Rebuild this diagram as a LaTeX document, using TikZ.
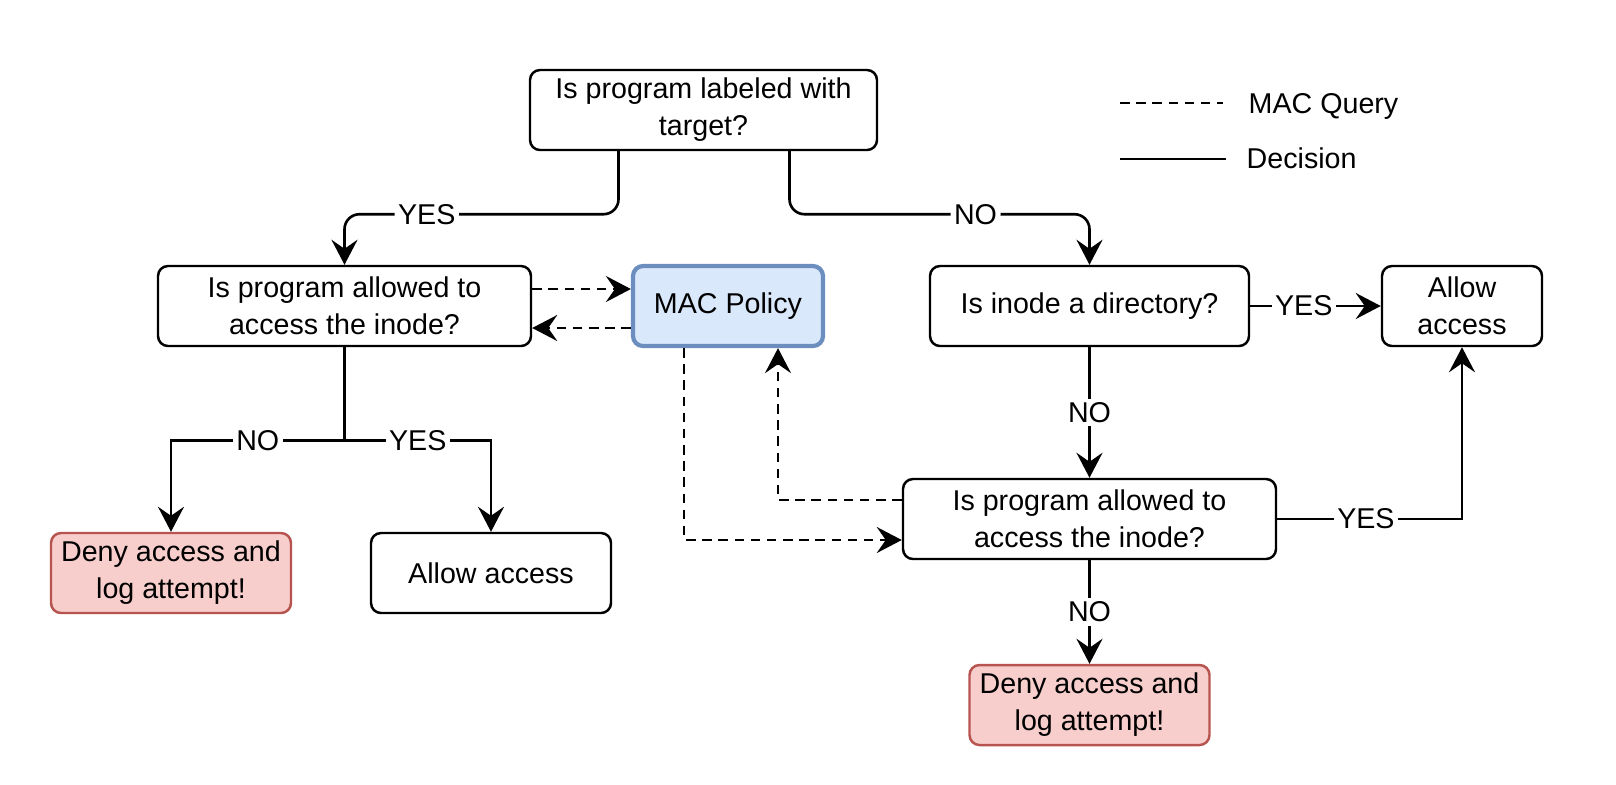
\documentclass[tikz,border=0pt]{standalone}
\usepackage{fontspec}
\setmainfont{Liberation Sans}
\usepackage{xcolor}
\usetikzlibrary{arrows.meta,positioning,calc}

\definecolor{macfill}{HTML}{DAE8FC}
\definecolor{macline}{HTML}{6C8EBF}
\definecolor{denyfill}{HTML}{F8CECC}
\definecolor{denyline}{HTML}{B85450}

\begin{document}
\begin{tikzpicture}[
  font=\fontsize{8.15}{10.5}\selectfont,
  q/.style={draw,rounded corners=1mm,line width=0.7pt,align=center,minimum height=8mm,inner sep=0pt},
  pol/.style={q,draw=macline,fill=macfill,line width=1.2pt},
  deny/.style={q,draw=denyline,fill=denyfill},
  arr/.style={line width=0.75pt,-{Stealth[length=2.5mm,width=2.6mm,inset=0.9mm]}},
  qarr/.style={arr,dash pattern=on 2.7pt off 1.9pt},
  lbl/.style={fill=white,inner sep=1pt}
]
\useasboundingbox (0,0) rectangle (16.16,-7.84);

% decision boxes
\node[q,minimum width=3.47cm] (top) at (7.035,-1.10) {Is program labeled with\\target?};
\node[q,minimum width=3.73cm] (q1) at (3.445,-3.06) {Is program allowed to\\access the inode?};
\node[pol,minimum width=1.90cm] (mac) at (7.28,-3.06) {MAC Policy};
\node[q,minimum width=3.19cm] (dir) at (10.895,-3.06) {Is inode a directory?};
\node[q,minimum width=1.60cm] (okr) at (14.62,-3.06) {Allow\\access};
\node[deny,minimum width=2.40cm] (denyl) at (1.71,-5.73) {Deny access and\\log attempt!};
\node[q,minimum width=2.40cm] (okl) at (4.91,-5.73) {Allow access};
\node[q,minimum width=3.73cm] (q2) at (10.895,-5.19) {Is program allowed to\\access the inode?};
\node[deny,minimum width=2.40cm] (denyr) at (10.895,-7.05) {Deny access and\\log attempt!};

% decisions
\draw[arr,rounded corners=1.5mm] ([xshift=-8.5mm]top.south) -- ++(0,-0.63) -| node[lbl,pos=0.35]{YES} (q1.north);
\draw[arr,rounded corners=1.5mm] ([xshift=8.6mm]top.south) -- ++(0,-0.63) -| node[lbl,pos=0.31]{NO} (dir.north);
\draw[line width=0.75pt] (q1.south) -- ++(0,-0.93) coordinate (split);
\draw[arr] (split) -| node[lbl,pos=0.25]{NO} (denyl.north);
\draw[arr] (split) -| node[lbl,pos=0.25]{YES} (okl.north);
\draw[arr] (dir.east) -- node[lbl,pos=0.41]{YES} (okr.west);
\draw[arr] (dir.south) -- node[lbl]{NO} (q2.north);
\draw[arr] (q2.east) -| node[lbl,pos=0.24]{YES} (okr.south);
\draw[arr] (q2.south) -- node[lbl]{NO} (denyr.north);

% MAC queries
\draw[qarr] ([yshift=1.7mm]q1.east) -- ([yshift=1.7mm]q1.east -| mac.west);
\draw[qarr] ([yshift=-2.2mm]mac.west) -- ([yshift=-2.2mm]mac.west -| q1.east);
\draw[qarr] ([xshift=-4.4mm]mac.south) |- ([yshift=-2.1mm]q2.west);
\draw[qarr] ([yshift=1.9mm]q2.west) -| ([xshift=5mm]mac.south);

% legend
\coordinate (lq) at (11.2,-1.03);
\coordinate (ld) at (11.2,-1.59);
\draw[line width=0.75pt,dash pattern=on 2.7pt off 1.9pt] (lq) -- ++(1.03,0);
\draw[line width=0.75pt] (ld) -- ++(1.06,0);
\node[anchor=base west,inner sep=0pt] (lgq) at (12.48,-1.13) {MAC Query};
\node[anchor=base west,inner sep=0pt] (lgd) at (12.46,-1.68) {Decision};
\end{tikzpicture}
\end{document}
